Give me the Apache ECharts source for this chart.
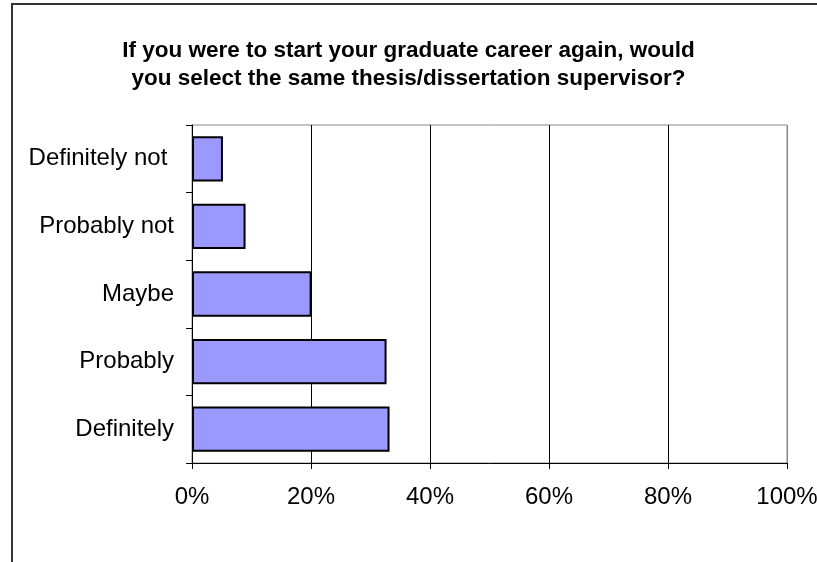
<!DOCTYPE html>
<html>
<head>
<meta charset="utf-8">
<script src="https://cdn.jsdelivr.net/npm/echarts@6/dist/echarts.min.js"></script>
<style>
  html, body { margin: 0; padding: 0; background: #fff; }
  #chart { width: 817px; height: 562px; }
</style>
</head>
<body>
<div id="chart"></div>
<script>
// answers, top to bottom as shown
var categories = ['Definitely not ', 'Probably not', 'Maybe', 'Probably', 'Definitely'];
var shares = [0.052, 0.09, 0.201, 0.327, 0.332];
var tickValues = [0, 0.2, 0.4, 0.6, 0.8, 1];

var font = '"Liberation Sans", Arial, sans-serif';
var chart = echarts.init(document.getElementById('chart'));

var option = {
  backgroundColor: '#fff',
  animation: false,
  title: {
    text: 'If you were to start your graduate career again, would\nyou select the same thesis/dissertation supervisor?',
    left: 'center',
    top: 32,
    textStyle: {
      fontFamily: font,
      fontSize: 22.5,
      fontWeight: 'bold',
      color: '#000',
      lineHeight: 28,
      align: 'center'
    }
  },
  grid: {
    left: 192,
    right: 30,
    top: 125,
    bottom: 99,
    outerBoundsMode: 'none',
    show: true,
    borderColor: '#888',
    borderWidth: 1,
    backgroundColor: '#fff'
  },
  xAxis: {
    type: 'value',
    min: 0,
    max: 1,
    interval: 0.2,
    axisLine: { show: true, lineStyle: { color: '#000', width: 1 } },
    axisTick: { show: true, length: 6, lineStyle: { color: '#000' } },
    splitLine: {
      show: true,
      lineStyle: { color: ['#000', '#000', '#000', '#000', '#000', '#888'], width: 1 }
    },
    axisLabel: {
      margin: 22,
      color: '#000',
      fontFamily: font,
      fontSize: 24,
      formatter: function (v) { return Math.round(v * 100) + '%'; }
    }
  },
  yAxis: {
    type: 'category',
    data: categories,
    inverse: true,
    axisLine: { show: true, lineStyle: { color: '#000', width: 1 } },
    axisTick: { show: true, length: 6, lineStyle: { color: '#000' } },
    splitLine: { show: false },
    axisLabel: {
      margin: 18,
      color: '#000',
      fontFamily: font,
      fontSize: 24
    }
  },
  series: [{
    type: 'bar',
    data: shares,
    barCategoryGap: '33%',
    itemStyle: {
      color: '#9999FF',
      borderColor: '#000',
      borderWidth: 2
    }
  }],
  graphic: [{
    type: 'polyline',
    shape: { points: [[12, 600], [12, 4], [900, 4]] },
    style: { stroke: '#333', lineWidth: 2, fill: null },
    silent: true
  }]
};

chart.setOption(option);
</script>
</body>
</html>
